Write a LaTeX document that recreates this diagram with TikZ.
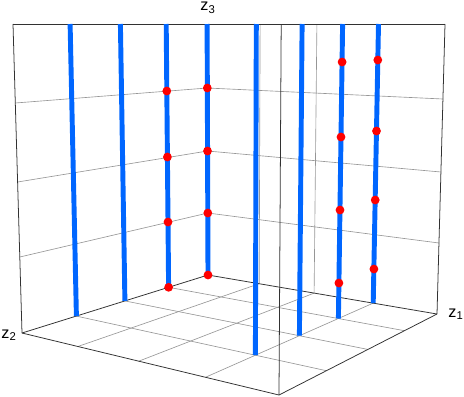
\documentclass[tikz,border=0pt]{standalone}
\usepackage{fontspec}
\setmainfont{Liberation Sans}
\definecolor{stickblue}{RGB}{0,102,255}
\definecolor{gridgray}{RGB}{150,150,150}
\definecolor{edgegray}{RGB}{50,50,50}
\tikzstyle{gridline} = [draw=gridgray, line width=0.45pt]
\tikzstyle{boxedge} = [draw=edgegray, line width=0.55pt]
\tikzstyle{stick} = [draw=stickblue, line width=3.5pt]
\tikzstyle{hit} = [fill=red]
\tikzstyle{axislabel} = [font=\fontsize{11.5}{13}\selectfont, inner sep=0pt]

\begin{document}
\begin{tikzpicture}[x=0.025cm, y=-0.025cm]
    \useasboundingbox (0,0) rectangle (464,396);

    \coordinate (back) at (208,275);
    \coordinate (left) at (22,333);
    \coordinate (right) at (437,314);
    \coordinate (front) at (279,395);
    \coordinate (backtop) at (207.1,24);
    \coordinate (lefttop) at (13,24);
    \coordinate (righttop) at (445,24);
    \coordinate (fronttop) at (281.2,24);

    % floor grid
    \draw [gridline] (259.2,283.7) -- (77.8,346.5);
    \draw [gridline] (314.1,293.1) -- (138.7,361.2);
    \draw [gridline] (373.2,303.1) -- (205.4,377.3);
    \draw [gridline] (168.6,287.3) -- (404.5,330.7);
    \draw [gridline] (124.9,300.9) -- (367.9,349.4);
    \draw [gridline] (76.4,316.1) -- (326.4,370.7);

    % back walls
    \draw [gridline] (19.8,257) -- (207.8,213) -- (439.0,243);
    \draw [gridline] (17.6,182) -- (207.5,151) -- (440.9,172);
    \draw [gridline] (15.3,103) -- (207.3,88) -- (442.9,99);
    \draw [gridline] (259.2,283.7) -- (260.1,24);
    \draw [gridline] (314.1,293.1) -- (316.9,24);
    \draw [gridline] (373.2,303.1) -- (378.5,24);
    \draw [gridline] (168.6,287.3) -- (166.2,24);
    \draw [gridline] (124.9,300.9) -- (120.4,24);
    \draw [gridline] (76.4,316.1) -- (70.1,24);

    % box
    \draw [boxedge] (left) -- (back) -- (right);
    \draw [boxedge] (left) -- (front) -- (right);
    \draw [boxedge] (left) -- (lefttop);
    \draw [boxedge] (right) -- (righttop);
    \draw [boxedge] (back) -- (backtop);
    \draw [boxedge] (front) -- (fronttop);
    \draw [boxedge] (lefttop) -- (righttop);

    % sticks
    \draw [stick] (76.4,316.1) -- (70.1,24);
    \draw [stick] (124.9,300.9) -- (120.4,24);
    \draw [stick] (168.6,287.3) -- (166.2,24);
    \draw [stick] (208,275) -- (207.1,24);
    \draw [stick] (255.4,355.2) -- (256.3,24);
    \draw [stick] (299.4,335.7) -- (302.1,24);
    \draw [stick] (338.4,318.5) -- (342.6,24);
    \draw [stick] (373.2,303.1) -- (378.5,24);

    % points
    \fill [hit] (168.6,287.3) circle (4.4);
    \fill [hit] (168.0,222) circle (4.4);
    \fill [hit] (167.4,157) circle (4.4);
    \fill [hit] (166.8,91) circle (4.4);
    \fill [hit] (208,275) circle (4.4);
    \fill [hit] (207.8,213) circle (4.4);
    \fill [hit] (207.5,151) circle (4.4);
    \fill [hit] (207.3,88) circle (4.4);
    \fill [hit] (338.9,283) circle (4.4);
    \fill [hit] (340.0,210) circle (4.4);
    \fill [hit] (341.0,137) circle (4.4);
    \fill [hit] (342.1,62) circle (4.4);
    \fill [hit] (373.9,269) circle (4.4);
    \fill [hit] (375.2,200) circle (4.4);
    \fill [hit] (376.5,131) circle (4.4);
    \fill [hit] (377.8,60) circle (4.4);

    \node (zthree) [axislabel] at (208,8) {z\textsubscript{3}};
    \node (ztwo) [axislabel] at (9,335) {z\textsubscript{2}};
    \node (zone) [axislabel] at (456,314) {z\textsubscript{1}};
\end{tikzpicture}
\end{document}
